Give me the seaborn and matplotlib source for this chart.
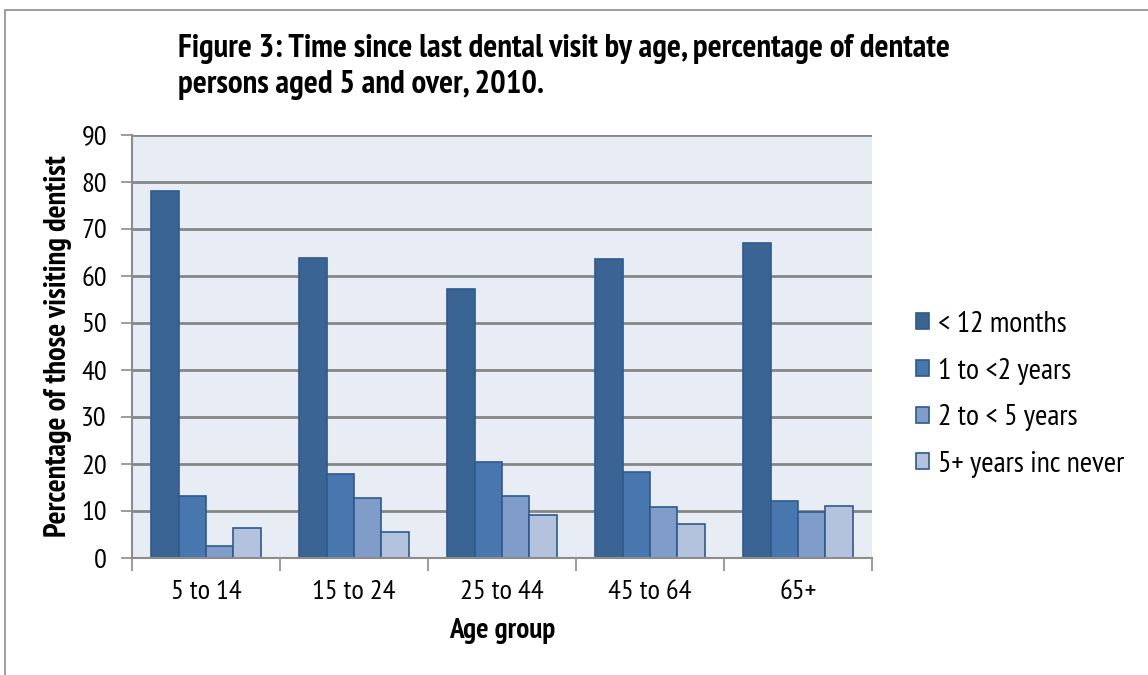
import matplotlib
matplotlib.use("Agg")
import matplotlib.pyplot as plt
from matplotlib import font_manager
from matplotlib.patches import Rectangle
import pandas as pd
import seaborn as sns

age_groups = ["5 to 14", "15 to 24", "25 to 44", "45 to 64", "65+"]
series_names = ["< 12 months", "1 to <2 years", "2 to < 5 years", "5+ years inc never"]
lt_12_months = [78.0, 63.9, 57.2, 63.7, 67.0]
one_to_two = [13.1, 17.9, 20.5, 18.3, 12.2]
two_to_five = [2.5, 12.8, 13.2, 10.8, 9.8]
five_plus = [6.4, 5.5, 9.2, 7.2, 11.0]
y_ticks = [0, 10, 20, 30, 40, 50, 60, 70, 80, 90]

colors = ["#3A6494", "#4877AF", "#7F9DC8", "#B3C2DD"]

names = {f.name for f in font_manager.fontManager.ttflist}
family = next((f for f in ["PT Sans Narrow", "Roboto Condensed", "Fira Sans Condensed",
                           "Archivo Narrow", "Liberation Sans Narrow"] if f in names),
              "DejaVu Sans")

rows = []
for vals, name in zip([lt_12_months, one_to_two, two_to_five, five_plus], series_names):
    for g, v in zip(age_groups, vals):
        rows.append({"Age group": g, "Period": name, "Value": v})
df = pd.DataFrame(rows)

sns.set_style("white")
plt.rcParams["font.family"] = [family, "DejaVu Sans"]
plt.rcParams["text.color"] = "black"
plt.rcParams["axes.labelcolor"] = "black"
plt.rcParams["xtick.labelcolor"] = "black"
plt.rcParams["ytick.labelcolor"] = "black"

fig = plt.figure(figsize=(11.48, 6.75), dpi=100)
ax = fig.add_axes([132 / 1148, 1 - 558 / 675, 740 / 1148, 423 / 675])
ax.set_facecolor("#E8ECF4")

sns.barplot(data=df, x="Age group", y="Value", hue="Period", order=age_groups,
            hue_order=series_names, palette=colors, saturation=1, width=0.74, gap=0,
            edgecolor="#2E5A8A", linewidth=1.2, ax=ax, legend=True, errorbar=None)

ax.set_ylim(0, 90)
ax.set_xlim(-0.5, len(age_groups) - 0.5)
ax.set_yticks(y_ticks)
ax.set_yticklabels([str(t) for t in y_ticks], fontsize=20.5)
ax.yaxis.grid(True, color="#868686", linewidth=2)
ax.set_axisbelow(True)
ax.tick_params(axis="y", length=8, width=1.2, color="#8C8C8C", pad=10, direction="out", left=True)

# category ticks sit at group boundaries, labels at group centres
ax.set_xticks([i for i in range(len(age_groups))])
ax.set_xticklabels(age_groups, fontsize=20.5)
ax.tick_params(axis="x", length=0, pad=16)
ax.set_xticks([i - 0.5 for i in range(len(age_groups) + 1)], minor=True)
ax.tick_params(axis="x", which="minor", length=9, width=1.2, color="#8C8C8C", direction="out", bottom=True)

for side in ["top", "right"]:
    ax.spines[side].set_visible(False)
for side in ["left", "bottom"]:
    ax.spines[side].set_color("#8C8C8C")
    ax.spines[side].set_linewidth(1.5)

ax.set_xlabel("Age group", fontsize=21, fontweight="bold", labelpad=10)
ax.set_ylabel("Percentage of those visiting dentist", fontsize=22, fontweight="bold", labelpad=7)

handles, labels = ax.get_legend_handles_labels()
ax.get_legend().remove()
fig.legend(handles, labels, loc="upper left", bbox_to_anchor=(904 / 1148, 1 - 299 / 675),
           frameon=False, fontsize=21.5, handlelength=0.45, handleheight=0.45,
           handletextpad=0.3, labelspacing=0.66, borderaxespad=0)

fig.text(178 / 1148, 1 - 67 / 675, "Figure 3: Time since last dental visit by age, percentage of dentate\npersons aged 5 and over, 2010.",
         fontsize=23.7, fontweight="bold", va="center", ha="left", linespacing=1.22)

fig.patches.append(Rectangle((5 / 1148, -0.1), 1.2, 1 - 10 / 675 + 0.1, transform=fig.transFigure,
                             fill=False, edgecolor="#8C8C8C", linewidth=1.2))

fig.savefig("out.png", dpi=100)
